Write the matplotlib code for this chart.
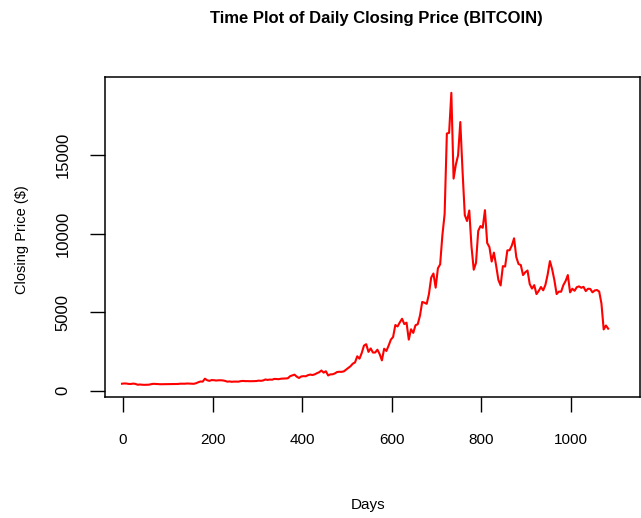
import numpy as np
import matplotlib
matplotlib.use("Agg")
import matplotlib.pyplot as plt

plt.rcParams['font.family'] = ['Liberation Sans', 'DejaVu Sans']

# daily closing price, every 5 days
days = list(range(-2, 1084, 5))
close = [
    445, 462, 455, 432, 430, 453, 432, 380, 395, 380,
    373, 376, 384, 416, 438, 433, 423, 412, 414, 409,
    418, 423, 420, 422, 425, 429, 447, 446, 444, 459,
    454, 454, 439, 473, 536, 585, 578, 766, 666, 627,
    676, 670, 648, 662, 665, 654, 624, 576, 591, 567,
    581, 577, 577, 610, 623, 609, 611, 604, 605, 610,
    617, 641, 630, 652, 715, 687, 710, 702, 751, 740,
    734, 765, 770, 780, 790, 921, 975, 1021, 894, 810,
    908, 925, 918, 989, 1025, 1000, 1040, 1115, 1175, 1285,
    1150, 1240, 970, 1040, 1045, 1100, 1190, 1205, 1200, 1230,
    1340, 1450, 1560, 1720, 1800, 2190, 2040, 2400, 2870, 2960,
    2470, 2690, 2430, 2430, 2610, 2330, 1930, 2670, 2530, 2870,
    3250, 3420, 4180, 4090, 4350, 4580, 4240, 4330, 3250, 3910,
    3680, 4170, 4230, 4780, 5650, 5600, 5530, 6150, 7200, 7460,
    6560, 7790, 8040, 9890, 11240, 16370, 16410, 18960, 13500, 14380,
    14980, 17100, 13980, 11180, 10800, 11470, 9170, 7700, 8130, 10170,
    10480, 10370, 11490, 9400, 9140, 8220, 8790, 7960, 7050, 6700,
    7930, 7900, 8930, 8940, 9240, 9700, 8500, 8060, 8000, 7360,
    7540, 7650, 6780, 6500, 6720, 6150, 6350, 6600, 6390, 6740,
    7400, 8250, 7730, 7030, 6150, 6310, 6300, 6720, 6980, 7360,
    6260, 6490, 6360, 6590, 6640, 6550, 6610, 6340, 6490, 6480,
    6260, 6380, 6410, 6310, 5550, 3900, 4150, 3950,
]
xticks = [0, 200, 400, 600, 800, 1000]
yticks = [0, 5000, 10000, 15000]

fig = plt.figure(figsize=(6.41, 5.18), dpi=100)
ax = fig.add_axes([0.1638, 0.233, 0.8346, 0.619])

ax.plot(days, close, color="red", lw=1.5)

ax.set_xlim(-40, 1154)
ax.set_ylim(-420, 19987)
ax.set_xticks(xticks)
ax.set_yticks(yticks)
ax.tick_params(axis="x", length=11, width=1, pad=15, labelsize=11)
ax.tick_params(axis="y", length=11, width=1, pad=14, labelsize=12)
for lab in ax.get_yticklabels():
    lab.set_rotation(90)
    lab.set_va("center")
for s in ax.spines.values():
    s.set_linewidth(1.1)

fig.text(0.587, 0.965, "Time Plot of Daily Closing Price (BITCOIN)",
         ha="center", va="center", fontsize=12, fontweight="bold")
fig.text(0.574, 0.025, "Days", ha="center", va="center", fontsize=11)
fig.text(0.034, 0.538, "Closing Price ($)", ha="center", va="center",
         rotation=90, fontsize=10.5)

fig.savefig("out.png", dpi=100)
